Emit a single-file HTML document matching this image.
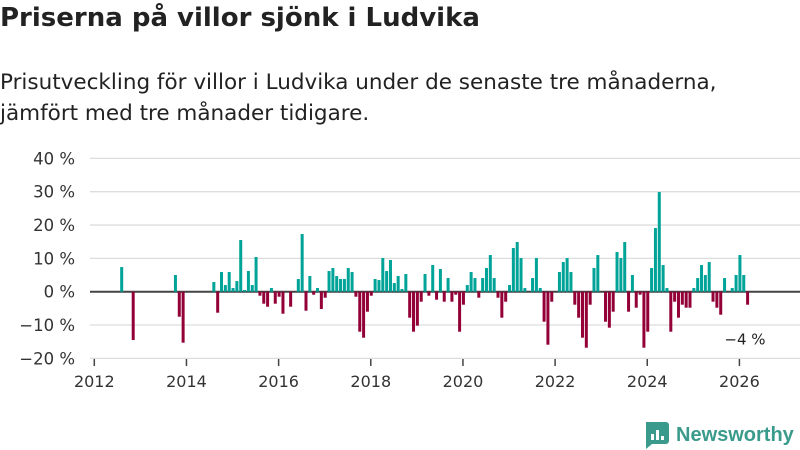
<!DOCTYPE html>
<html><head><meta charset="utf-8"><style>
body{margin:0;background:#fff;font-family:"Liberation Sans","DejaVu Sans",sans-serif;}
#wrap{position:relative;width:800px;height:450px;overflow:hidden;}
h1{position:absolute;left:0;top:3px;margin:0;font-family:"DejaVu Sans",sans-serif;font-size:26px;font-weight:bold;color:#222;}
.sub{position:absolute;left:0;top:67px;margin:0;font-family:"DejaVu Sans",sans-serif;font-size:21.5px;line-height:31px;color:#222;}
</style></head><body>
<div id="wrap">
<h1>Priserna på villor sjönk i Ludvika</h1>
<p class="sub">Prisutveckling för villor i Ludvika under de senaste tre månaderna,<br>jämfört med tre månader tidigare.</p>
<svg id="chart" width="800" height="450" style="position:absolute;left:0;top:0"></svg>
</div>
<script>
const yTicks=[40,30,20,10,0,-10,-20];
const xTickYears=[2012,2014,2016,2018,2020,2022,2024,2026];
// month index from Jan 2012
const months=[7,10,21,22,23,31,32,33,34,35,36,37,38,39,40,41,42,43,44,45,46,47,48,49,51,53,54,55,56,57,58,59,60,61,62,63,64,65,66,67,68,69,70,71,72,73,74,75,76,77,78,79,80,81,82,83,84,85,86,87,88,89,90,91,92,93,94,95,96,97,98,99,100,101,102,103,104,105,106,107,108,109,110,111,112,114,115,116,117,118,119,121,122,123,124,125,126,127,128,129,130,131,133,134,135,136,137,138,139,140,141,142,143,144,145,146,147,148,149,150,151,152,153,154,155,156,157,158,159,160,161,162,163,164,166,167,168,169,170];
const values=[7.4,-14.5,5,-7.5,-15.3,2.9,-6.3,5.9,2,5.9,1.1,3.2,15.5,0.5,6.2,2,10.4,-1.2,-3.6,-4.5,1.1,-3.6,-1.5,-6.6,-4.5,3.8,17.3,-5.7,4.7,-0.9,1.1,-5.2,-1.8,6.2,7.1,4.7,3.8,3.8,7.1,5.9,-1.5,-12,-13.8,-6,-1.2,3.8,3.5,10.1,6.2,9.5,2.6,4.7,0.8,5.3,-7.8,-12,-10.2,-3,5.3,-1.2,8,-2.4,6.8,-3,4.1,-3,-0.9,-12,-3.9,2,5.9,4.1,-1.8,4.1,7.1,11,4.1,-1.8,-7.8,-3,2,13.1,14.9,10.1,1.1,4.1,10.1,1.1,-9,-15.9,-3,5.9,8.9,10.1,5.9,-3.9,-7.8,-13.8,-16.8,-3.9,7.1,11,-9,-10.8,-6,11.9,10.1,14.9,-6,5,-4.8,-0.9,-16.8,-12,7.1,19.1,29.9,8,1.1,-12,-3,-7.8,-3.9,-4.8,-4.8,1.1,4.1,8,5,8.9,-3,-4.8,-6.9,4.1,1.1,5,11,5,-3.9];
const lastLabel="−4 %";
const svg=document.getElementById('chart');
const NS='http://www.w3.org/2000/svg';
const y=v=>291.7-v*3.333;
const x=m=>93.3+m*3.84;
function mk(t,a){const e=document.createElementNS(NS,t);for(const k in a)e.setAttribute(k,a[k]);svg.appendChild(e);return e;}
yTicks.forEach(t=>{
  const g=mk('line',{x1:90,x2:800,y1:y(t),y2:y(t),stroke:t===0?'#444':'#ddd','stroke-width':t===0?2:1.3});
  
  
  const l=mk('text',{x:75,y:y(t)+6,'text-anchor':'end','font-size':16.5,fill:'#333','font-family':'DejaVu Sans, sans-serif'});
  l.textContent=(t<0?'−'+(-t):t)+' %';
  
  
});
xTickYears.forEach(yr=>{
  const px=x((yr-2012)*12)+1;
  const t=mk('line',{x1:px,x2:px,y1:359,y2:366,stroke:'#444','stroke-width':1.5});
  
  
  const l=mk('text',{x:px,y:387,'text-anchor':'middle','font-size':16,fill:'#333','font-family':'DejaVu Sans, sans-serif'});
  l.textContent=yr;
  
  
});
months.forEach((m,i)=>{
  const v=values[i];
  const r=mk('rect',{x:x(m),width:3,y:Math.min(y(v),y(0)),height:Math.abs(y(v)-y(0)),fill:v>=0?'#00a398':'#930037'});
  
  
});
const lastV=values[values.length-1];
const lbl=mk('text',{x:745,y:y(lastV)+40,'text-anchor':'middle','font-size':15,fill:'#222','font-family':'DejaVu Sans, sans-serif'});
lbl.textContent=lastLabel;


// logo
const lg=mk('g',{});


const ic=document.createElementNS(NS,'path');
ic.setAttribute('d','M646 422 h20 a3 3 0 0 1 3 3 v16 a3 3 0 0 1 -3 3 h-14 l-6 5 z');
ic.setAttribute('fill','#3a9b8c');
lg.appendChild(ic);
[[651,434,3,6],[656,430,3,10],[661,436,3,4]].forEach(b=>{const r=document.createElementNS(NS,'rect');r.setAttribute('x',b[0]);r.setAttribute('y',b[1]);r.setAttribute('width',b[2]);r.setAttribute('height',b[3]);r.setAttribute('fill','#fff');lg.appendChild(r);});
const lt=document.createElementNS(NS,'text');
lt.setAttribute('x',676);lt.setAttribute('y',441);lt.setAttribute('font-size',20);lt.setAttribute('font-weight','bold');lt.setAttribute('fill','#3a9b8c');
lt.textContent='Newsworthy';
lg.appendChild(lt);
</script>
</body></html>
